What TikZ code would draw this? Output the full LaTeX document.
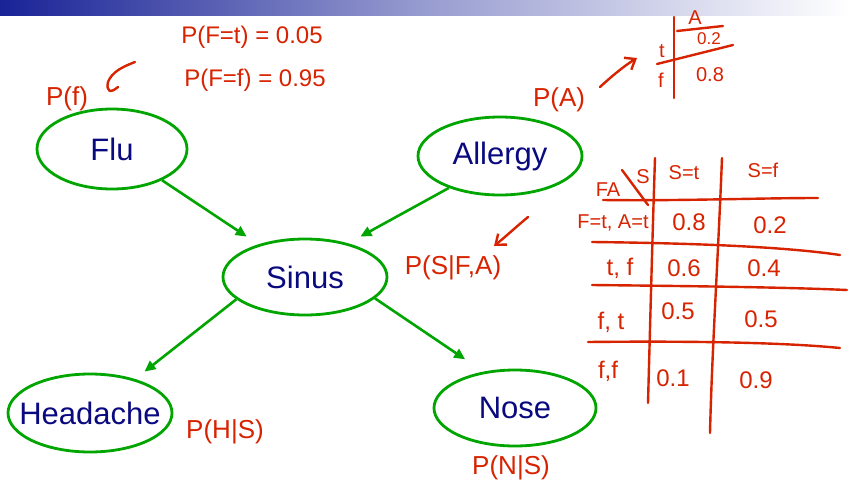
\documentclass[tikz,border=0pt]{standalone}
\usepackage{fontspec}
\setmainfont{Liberation Sans}
\usetikzlibrary{shapes.geometric,arrows.meta}
\definecolor{gr}{RGB}{0,165,0}
\definecolor{navytxt}{RGB}{10,10,128}
\definecolor{pen}{RGB}{215,35,0}
\definecolor{barblue}{RGB}{25,35,150}
\tikzset{
  bnode/.style={ellipse,draw=gr,line width=2.8pt,inner sep=0pt,text=navytxt,
    font=\fontsize{31}{35}\selectfont},
  garrow/.style={draw=gr,line width=2.6pt,-{Triangle[length=11pt,width=10pt]}},
  hand/.style={text=pen,inner sep=0pt,font=\fontsize{24}{26}\selectfont},
  handbig/.style={text=pen,inner sep=0pt,font=\fontsize{26}{28}\selectfont},
  handsm/.style={text=pen,inner sep=0pt,font=\fontsize{20}{22}\selectfont},
  handxs/.style={text=pen,inner sep=0pt,font=\fontsize{17}{19}\selectfont},
  penline/.style={draw=pen,line width=2.4pt,line cap=round,line join=round},
  penarrow/.style={penline,-{Straight Barb[length=9pt,width=14pt]}}
}
\newcommand{\lbl}[1]{\makebox[0pt]{#1}}
\begin{document}
\begin{tikzpicture}[x=1pt,y=-1pt]
\useasboundingbox (0,0) rectangle (849,498);
\fill[white] (0,0) rectangle (849,498);
\shade[left color=barblue,right color=white,middle color=barblue!45] (0,0) rectangle (849,15);

% nodes
\node[bnode,minimum width=150pt,minimum height=80pt] (flu) at (112,149) {\lbl{Flu}};
\node[bnode,minimum width=164pt,minimum height=78pt] (allergy) at (500,156) {\lbl{Allergy}};
\node[bnode,minimum width=164pt,minimum height=76pt] (sinus) at (305,277) {\lbl{Sinus}};
\node[bnode,minimum width=164pt,minimum height=78pt] (headache) at (90,413) {\lbl{Headache}};
\node[bnode,minimum width=162pt,minimum height=76pt] (nose) at (515,408) {\lbl{Nose}};

% connectors
\draw[garrow,shorten >=14pt] (flu.-32) -- (sinus.145);
\draw[garrow,shorten >=14pt] (allergy.212) -- (sinus.38);
\draw[garrow,shorten >=12pt] (sinus.198) -- (headache.37);
\draw[garrow,shorten >=22pt] (sinus.-17) -- (nose.131);

% handwritten annotations
\node[hand] (pft) at (252,37) {P(F=t) = 0.05};
\node[hand] (pff) at (255,80) {P(F=f) = 0.95};
\node[handbig] (pf) at (67,99) {P(f)};
\draw[penline] (135,62) .. controls (122,67) and (112,72) .. (108,82) .. controls (106,91) and (110,94) .. (118,87);

\node[handbig] (pa) at (559,100) {P(A)};
\draw[penarrow] (600,87) .. controls (612,76) and (624,66) .. (637,58);

% small table
\draw[penline] (674,17) -- (674,98);
\draw[penline] (677,31) -- (723,26);
\draw[penline] (657,64) -- (733,45);
\node[handsm] (ta) at (695,18) {A};
\node[handsm] (tt) at (662,51) {t};
\node[handxs] (t02) at (709,39) {0.2};
\node[handsm] (tf) at (661,80) {f};
\node[handsm] (t08) at (710,75) {0.8};

% P(S|F,A)
\node[handbig] (psfa) at (453,268) {P(S|F,A)};
\draw[penarrow] (528,217) .. controls (516,227) and (504,238) .. (494,246);

% big table
\draw[penline] (622,170) -- (648,205);
\draw[penline] (655,158) .. controls (652,250) and (650,330) .. (648,403);
\draw[penline] (722,158) .. controls (718,260) and (712,350) .. (710,433);
\draw[penline] (603,200) .. controls (680,201) and (760,198) .. (818,198);
\draw[penline] (592,242) .. controls (680,243) and (780,246) .. (840,255);
\draw[penline] (592,285) .. controls (680,286) and (780,287) .. (847,290);
\draw[penline] (588,342) .. controls (680,341) and (780,342) .. (840,348);
\node[handsm] (hfa) at (608,190) {FA};
\node[handsm] (hs) at (643,177) {S};
\node[handsm] (hst) at (684,173) {S=t};
\node[handsm] (hsf) at (763,170) {S=f};
\node[handsm] (r1) at (613,223) {F=t, A=t};
\node[hand] (r1a) at (689,222) {0.8};
\node[hand] (r1b) at (770,225) {0.2};
\node[hand] (r2) at (620,268) {t, f};
\node[hand] (r2a) at (684,268) {0.6};
\node[hand] (r2b) at (764,268) {0.4};
\node[hand] (r3) at (611,322) {f, t};
\node[hand] (r3a) at (678,311) {0.5};
\node[hand] (r3b) at (761,319) {0.5};
\node[hand] (r4) at (608,371) {f,f};
\node[hand] (r4a) at (673,378) {0.1};
\node[hand] (r4b) at (756,380) {0.9};

\node[handbig] (phs) at (225,432) {P(H|S)};
\node[handbig] (pns) at (511,468) {P(N|S)};
\end{tikzpicture}
\end{document}
